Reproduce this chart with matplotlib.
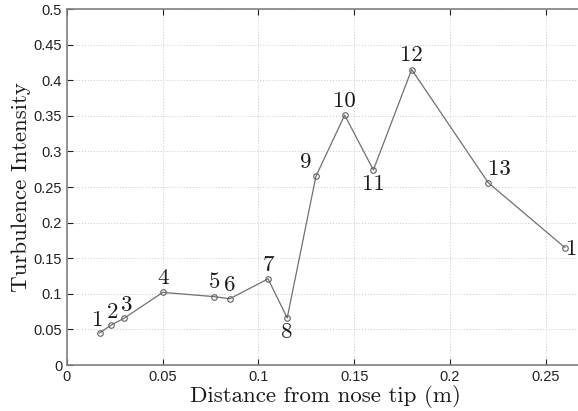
import matplotlib
matplotlib.use("Agg")
import matplotlib.pyplot as plt
from matplotlib.ticker import FuncFormatter

# measurement points along the body
distance = [0.017, 0.023, 0.030, 0.050, 0.077, 0.085, 0.105,
            0.115, 0.130, 0.145, 0.160, 0.180, 0.220, 0.260]
intensity = [0.045, 0.056, 0.066, 0.102, 0.096, 0.093, 0.121,
             0.066, 0.265, 0.351, 0.274, 0.415, 0.256, 0.165]
point_labels = [str(i) for i in range(1, 15)]

# label offsets in points (dx, dy) and alignment
offsets = {
    1: (-1, 2, "center", "bottom"), 2: (1, 2, "center", "bottom"),
    3: (2, 2, "center", "bottom"), 4: (0, 3, "center", "bottom"),
    5: (0, 3, "center", "bottom"), 6: (0, 3, "center", "bottom"),
    7: (0, 3, "center", "bottom"), 8: (0, -3, "center", "top"),
    9: (-3, 3, "right", "bottom"), 10: (0, 3, "center", "bottom"),
    11: (0, -3, "center", "top"), 12: (0, 3, "center", "bottom"),
    13: (0, 3, "left", "bottom"), 14: (1, -1, "left", "center"),
}

serif = "cmr10"

fig = plt.figure(figsize=(5.78, 4.11), dpi=100)
ax = fig.add_axes([0.1159, 0.1119, 0.8945, 0.8662])

ax.plot(distance, intensity, color="#707070", lw=0.9, marker="o",
        ms=4, mfc="none", mec="#606060", mew=0.8)

for i, (x, y, lab) in enumerate(zip(distance, intensity, point_labels), 1):
    dx, dy, ha, va = offsets[i]
    ax.annotate(lab, (x, y), xytext=(dx, dy), textcoords="offset points",
                ha=ha, va=va, fontsize=16.5, fontfamily=serif, color="#1a1a1a")

ax.set_xlim(0, 0.27)
ax.set_ylim(0, 0.5)
ax.set_xticks([0, 0.05, 0.1, 0.15, 0.2, 0.25])
ax.set_yticks([i * 0.05 for i in range(11)])
fmt = FuncFormatter(lambda v, p: "%g" % round(v, 3))
ax.xaxis.set_major_formatter(fmt)
ax.yaxis.set_major_formatter(fmt)
ax.tick_params(direction="in", length=4, labelsize=10.5, colors="#222222",
               top=True, right=True)
for lab in ax.get_xticklabels() + ax.get_yticklabels():
    lab.set_fontfamily("Liberation Sans")

ax.grid(True, ls=(0, (1, 2)), color="#c8c8c8", lw=0.7)
for s in ax.spines.values():
    s.set_color("#808080")
    s.set_linewidth(1.2)

ax.set_xlabel("Distance from nose tip (m)", fontsize=16.5, fontfamily=serif,
              labelpad=1, color="#1a1a1a")
ax.set_ylabel("Turbulence Intensity", fontsize=16.5, fontfamily=serif,
              labelpad=2, color="#1a1a1a")

fig.savefig("out.png", dpi=100)
